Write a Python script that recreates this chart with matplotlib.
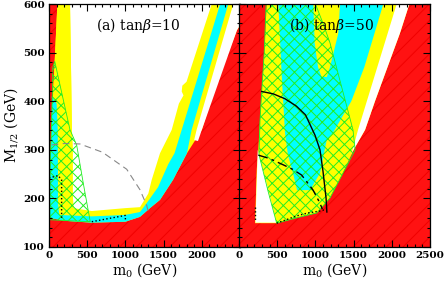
import matplotlib
matplotlib.use('Agg')
import matplotlib.pyplot as plt
from matplotlib.patches import Polygon, Rectangle

plt.rcParams['font.family'] = 'DejaVu Serif'
plt.rcParams['mathtext.fontset'] = 'dejavuserif'
plt.rcParams['hatch.linewidth'] = 0.7

RED = '#ff1212'
RED_HATCH = '#f00000'
YELLOW = '#ffff00'
CYAN = '#00ffff'
GREEN = '#22ee22'

# ---- panel (a) tan(beta)=10, points are (m0, M1/2)
a_allowed = [(110, 600), (80, 500), (55, 420), (30, 340), (15, 260), (12, 160),
             (200, 154), (560, 150), (1000, 152), (1191, 162), (1322, 180),
             (1453, 197), (1623, 238), (1806, 293), (2000, 341), (2200, 440),
             (2460, 546), (2500, 556), (2500, 600)]
a_white = [(275, 600), (290, 450), (300, 341), (310, 300), (310, 215), (320, 180),
           (560, 174), (1000, 180), (1191, 182), (1300, 210), (1344, 238),
           (1453, 293), (1606, 341), (1700, 395), (1760, 412), (1737, 420),
           (1745, 432), (1800, 440), (2130, 600)]
a_yellow_left = [(110, 600), (275, 600), (290, 450), (300, 341), (310, 300),
                 (310, 215), (320, 176), (130, 168), (118, 190), (118, 250),
                 (115, 340), (100, 395), (55, 420), (80, 500)]
a_cyan = [(35, 410), (100, 395), (115, 340), (118, 250), (118, 190), (135, 166),
          (560, 163), (1000, 166), (1191, 172), (1300, 195), (1427, 223),
          (1560, 270), (1643, 293), (1737, 341), (2240, 600), (2347, 600),
          (1867, 341), (1806, 293), (1623, 238), (1453, 197), (1322, 180),
          (1191, 162), (1000, 152), (560, 150), (200, 154), (12, 160),
          (15, 260), (30, 340), (40, 400)]
a_strip = [(1900, 320), (1932, 341), (2412, 600), (2500, 600), (2500, 556),
           (2460, 546), (2000, 341), (1950, 318)]
a_g2 = [(50, 470), (75, 482), (275, 341), (362, 310), (450, 230), (540, 152),
        (12, 156), (15, 260), (30, 340), (45, 420)]
a_dash = [(35, 310), (200, 313), (405, 312), (700, 295), (1017, 260), (1190, 218),
          (1278, 186), (1300, 172)]
a_dot1 = [(0, 242), (120, 247), (165, 238), (165, 156)]
a_dot2 = [(560, 152), (760, 158), (1000, 165), (1000, 155)]

# ---- panel (b) tan(beta)=50
b_allowed = [(362, 600), (330, 500), (297, 420), (275, 361), (250, 293),
             (232, 260), (210, 149), (493, 149), (755, 160), (1017, 170),
             (1191, 201), (1361, 252), (1500, 300), (1650, 341), (1780, 400),
             (2107, 540), (2230, 600)]
b_white = [(245, 300), (215, 150), (493, 150), (380, 220)]
b_cyan = [(515, 600), (973, 600), (990, 520), (1035, 470), (1080, 450),
          (1150, 450), (1191, 470), (1300, 540), (1322, 600), (1889, 600),
          (1640, 470), (1470, 400), (1230, 335), (1148, 320), (1060, 252),
          (930, 217), (760, 217), (707, 252), (640, 290), (602, 335),
          (560, 450)]
b_strip = [(1470, 290), (1558, 341), (2064, 600), (2230, 600), (2107, 540),
           (1780, 400), (1650, 341), (1500, 300)]
b_g2 = [(355, 600), (1000, 600), (1100, 560), (1191, 520), (1492, 341),
        (1520, 300), (1361, 252), (1191, 201), (1017, 170), (755, 160),
        (493, 149), (380, 215), (262, 290), (275, 361), (297, 420), (330, 500)]
b_solid = [(297, 420), (450, 415), (602, 405), (750, 390), (870, 372), (995, 330),
           (1060, 300), (1100, 255), (1140, 200), (1150, 172)]
b_dashdot = [(253, 289), (400, 282), (580, 269), (700, 260), (820, 248),
             (970, 217), (1060, 190), (1090, 178)]
b_dot1 = [(493, 149), (600, 155), (755, 164), (900, 170), (1060, 174), (1150, 178)]
b_dot2 = [(215, 182), (215, 154)]

xticks = [0, 500, 1000, 1500, 2000, 2500]
yticks = [100, 200, 300, 400, 500, 600]


def poly(ax, pts, fc, z, **kw):
    ax.add_patch(Polygon(pts, closed=True, facecolor=fc, edgecolor='none',
                         zorder=z, **kw))


def hatch(ax, pts):
    ax.add_patch(Polygon(pts, closed=True, fill=False, hatch='xxx',
                         edgecolor=GREEN, lw=0.6, zorder=0.9))


def line(ax, pts, **kw):
    xs = [p[0] for p in pts]
    ys = [p[1] for p in pts]
    ax.plot(xs, ys, zorder=1.5, **kw)


def setup(ax, xlabels):
    ax.set_xlim(0, 2500)
    ax.set_ylim(100, 600)
    ax.add_patch(Rectangle((0, 100), 2500, 500, facecolor=RED, edgecolor=RED_HATCH,
                           hatch='//', lw=0, zorder=0.1))
    ax.set_axisbelow(False)
    ax.set_xticks(xticks)
    ax.set_xticks(range(0, 2501, 100), minor=True)
    ax.set_yticks(yticks)
    ax.set_yticks(range(100, 601, 20), minor=True)
    ax.set_xticklabels(xlabels)
    ax.tick_params(which='both', direction='in', top=True, right=True,
                   width=0.8, labelsize=7.5, pad=3)
    ax.tick_params(which='major', length=5)
    ax.tick_params(which='minor', length=2.5)
    for t in ax.get_xticklabels() + ax.get_yticklabels():
        t.set_fontweight('bold')
    for s in ax.spines.values():
        s.set_linewidth(0.9)
        s.set_zorder(3)
    ax.set_xlabel(r'm$_0$ (GeV)', fontsize=10, labelpad=1)


fig = plt.figure(figsize=(4.45, 2.85), dpi=100)
ax1 = fig.add_axes([49 / 445, 38 / 285, 191 / 445, 243 / 285])
ax2 = fig.add_axes([239 / 445, 38 / 285, 191 / 445, 243 / 285])

setup(ax1, ['0', '500', '1000', '1500', '2000', ''])
poly(ax1, a_allowed, YELLOW, 0.2)
poly(ax1, a_white, 'white', 0.3)
poly(ax1, a_yellow_left, YELLOW, 0.35)
poly(ax1, a_cyan, CYAN, 0.4)
poly(ax1, a_strip, 'white', 0.5)
hatch(ax1, a_g2)
line(ax1, a_dash, color='#888888', lw=0.8, dashes=(6, 4))
line(ax1, a_dot1, color='black', lw=1.0, ls=':')
line(ax1, a_dot2, color='black', lw=1.0, ls=':')
ax1.set_ylabel(r'M$_{1/2}$ (GeV)', fontsize=10, labelpad=2)
ax1.text(0.47, 0.91, r'(a) tan$\beta$=10', transform=ax1.transAxes,
         ha='center', va='center', fontsize=10, zorder=4)

setup(ax2, ['0', '500', '1000', '1500', '2000', '2500'])
ax2.set_yticklabels([])
poly(ax2, b_allowed, YELLOW, 0.2)
poly(ax2, b_white, 'white', 0.3)
poly(ax2, b_cyan, CYAN, 0.4)
poly(ax2, b_strip, 'white', 0.5)
hatch(ax2, b_g2)
line(ax2, b_solid, color='black', lw=1.0)
line(ax2, b_dashdot, color='black', lw=1.0, dashes=(7, 3, 2, 3))
line(ax2, b_dot1, color='black', lw=1.0, ls=':')
line(ax2, b_dot2, color='black', lw=1.0, ls=':')
ax2.text(0.487, 0.91, r'(b) tan$\beta$=50', transform=ax2.transAxes,
         ha='center', va='center', fontsize=10, zorder=4)

fig.savefig('out.png', dpi=100)
